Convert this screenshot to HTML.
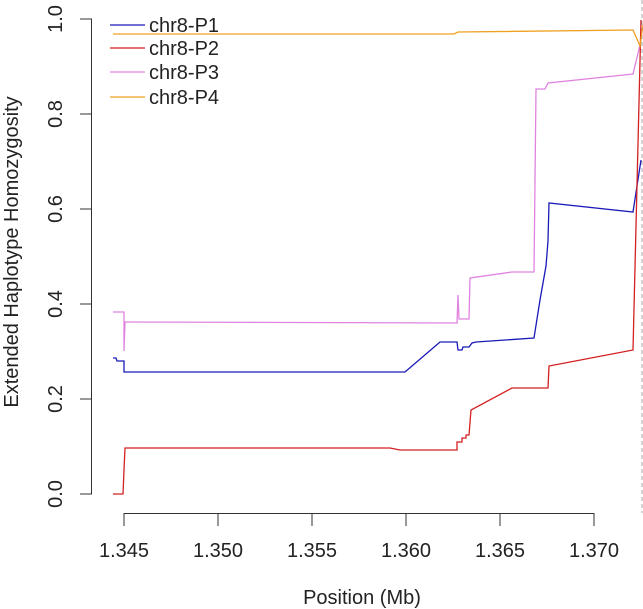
<!DOCTYPE html>
<html><head><style>body{margin:0;background:#fff}svg{display:block}text{font-family:"Liberation Sans",sans-serif;fill:#222}</style></head><body>
<svg width="643" height="609" viewBox="0 0 643 609" xmlns="http://www.w3.org/2000/svg">
<g stroke="#333" stroke-width="1" fill="none">
<path d="M91.5 19V494M80 19H92M80 114H92M80 209H92M80 304H92M80 399H92M80 494H92"/>
<path d="M124 513.5H594M124 513V526M218 513V526M312 513V526M406 513V526M500 513V526M594 513V526"/>
</g>
<g font-size="20" text-anchor="middle">
<text transform="translate(62,494) rotate(-90)">0.0</text>
<text transform="translate(62,399) rotate(-90)">0.2</text>
<text transform="translate(62,304) rotate(-90)">0.4</text>
<text transform="translate(62,209) rotate(-90)">0.6</text>
<text transform="translate(62,114) rotate(-90)">0.8</text>
<text transform="translate(62,19) rotate(-90)">1.0</text>
<text x="124" y="557">1.345</text><text x="218" y="557">1.350</text><text x="312" y="557">1.355</text>
<text x="406" y="557">1.360</text><text x="500" y="557">1.365</text><text x="594" y="557">1.370</text>
<text x="362" y="604">Position (Mb)</text>
<text transform="translate(18,252) rotate(-90)">Extended Haplotype Homozygosity</text>
</g>
<line x1="642" y1="0" x2="642" y2="513" stroke="#aaa" stroke-dasharray="4,3"/>
<g fill="none" stroke-width="1.3">
<polyline stroke="#e083e0" points="113,312 124,312 124,351 125,322 455,323 457,323 458,295 459,319 469,319 470,278 512,272 534,272 536,89 545,89 548,83 633,74 640,45"/>
<polyline stroke="#1a1ab8" points="113,358 116,358 117,361 122,361 124,361 124,372 405,372 440,342 457,342 458,350 462,350 463,347 469,347 472,343 476,342 534,338 540,300 546,266 548,241 549,203 633,212 641,160"/>
<polyline stroke="#d42020" points="113,494 123,494 124,470 125,448 390,448 400,450 457,450 457,442 462,442 462,438 466,438 466,435 469,435 471,410 512,388 548,388 549,366 633,350 641,20"/>
<polyline stroke="#f0a020" points="113,34 454,34 458,32 633,30 640,46 643,25"/>
</g>
<g stroke-width="1.3">
<line x1="110" y1="25" x2="145" y2="25" stroke="#1a1ab8"/>
<line x1="110" y1="48" x2="145" y2="48" stroke="#d42020"/>
<line x1="110" y1="72" x2="145" y2="72" stroke="#e083e0"/>
<line x1="110" y1="97" x2="145" y2="97" stroke="#f0a020"/>
</g>
<g font-size="20">
<text x="149" y="32">chr8-P1</text><text x="149" y="55">chr8-P2</text>
<text x="149" y="79">chr8-P3</text><text x="149" y="104">chr8-P4</text>
</g>
</svg>
</body></html>
